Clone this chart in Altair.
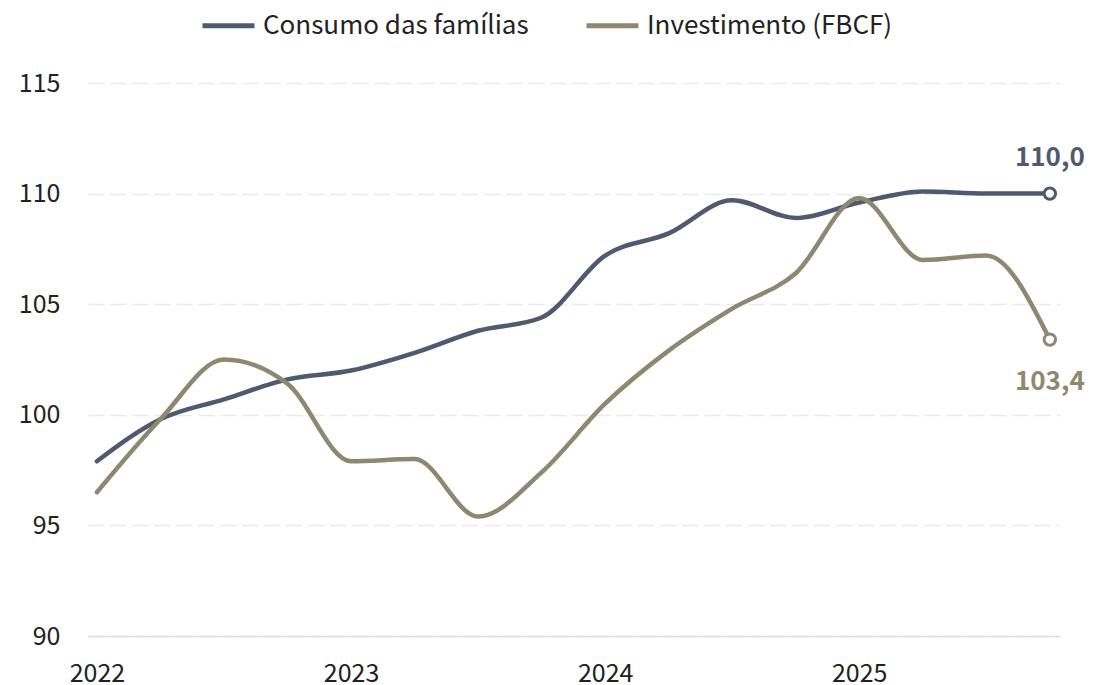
import altair as alt
import pandas as pd

years = [2022, 2022.25, 2022.5, 2022.75, 2023, 2023.25, 2023.5, 2023.75,
         2024, 2024.25, 2024.5, 2024.75, 2025, 2025.25, 2025.5, 2025.75]
consumo = [97.9, 99.8, 100.7, 101.6, 102.0, 102.8, 103.8, 104.4,
           107.2, 108.2, 109.7, 108.9, 109.6, 110.1, 110.0, 110.0]
investimento = [96.5, 99.8, 102.5, 101.4, 97.9, 98.0, 95.4, 97.4,
                100.5, 102.9, 104.8, 106.4, 109.8, 107.0, 107.2, 103.4]
series = ["Consumo das famílias", "Investimento (FBCF)"]
colors = ["#4f5a70", "#8e8870"]
end_labels = ["110,0", "103,4"]
year_ticks = [2022, 2023, 2024, 2025]

rows = []
for t, c, i in zip(years, consumo, investimento):
    rows.append({"t": t, "v": c, "s": series[0]})
    rows.append({"t": t, "v": i, "s": series[1]})
df = pd.DataFrame(rows)

last = pd.DataFrame({
    "t": [years[-1], years[-1]],
    "v": [consumo[-1], investimento[-1]],
    "s": series,
    "lab": end_labels,
})

FONT = "Noto Sans CJK SC"

x = alt.X("t:Q", scale=alt.Scale(domain=[2021.965, 2025.79], nice=False, zero=False),
          axis=alt.Axis(values=year_ticks, format="d", title=None, grid=False,
                        ticks=False, domain=True, domainColor="#dcdcdc", domainWidth=1.5,
                        labelFontSize=25, labelColor="#222222", labelPadding=25,
                        labelFont=FONT))
y = alt.Y("v:Q", scale=alt.Scale(domain=[90, 115], nice=False, zero=False),
          axis=alt.Axis(values=[90, 95, 100, 105, 110, 115], title=None, grid=True,
                        gridDash=[16, 6], gridColor="#ebebeb", gridWidth=1.5,
                        ticks=False, domain=False, labelFontSize=25,
                        labelColor="#222222", labelPadding=28, labelFont=FONT))
color = alt.Color("s:N", scale=alt.Scale(domain=series, range=colors),
                  legend=alt.Legend(title=None, orient="none", direction="horizontal",
                                    legendX=112, legendY=-86,
                                    symbolType="stroke", symbolSize=2704,
                                    symbolStrokeWidth=5, labelFontSize=26,
                                    labelFont=FONT, labelColor="#222222",
                                    labelLimit=500,
                                    labelOffset=6, columnPadding=47))

lines = alt.Chart(df).mark_line(interpolate="monotone", strokeWidth=4.5,
                                strokeCap="round").encode(x=x, y=y, color=color)

pts = alt.Chart(last).mark_point(filled=False, fill="white", fillOpacity=1, opacity=1,
                                 size=130, strokeWidth=3).encode(
    x="t:Q", y="v:Q", color=alt.Color("s:N", legend=None))

lab1 = alt.Chart(last.iloc[[0]]).mark_text(fontSize=26, fontWeight="bold", font=FONT,
                                          dy=-36, align="center").encode(
    x="t:Q", y="v:Q", text="lab:N", color=alt.Color("s:N", legend=None))
lab2 = alt.Chart(last.iloc[[1]]).mark_text(fontSize=26, fontWeight="bold", font=FONT,
                                          dy=42, align="center").encode(
    x="t:Q", y="v:Q", text="lab:N", color=alt.Color("s:N", legend=None))

chart = alt.layer(lines, pts, lab1, lab2).properties(
    width=972, height=553,
    autosize=alt.AutoSizeParams(type="none"),
    padding={"left": 80, "top": 75, "right": 26, "bottom": 49},
).configure(font=FONT).configure_view(stroke=None, strokeWidth=0)

chart.save("out.html", embed_options={"renderer": "svg", "actions": False})
